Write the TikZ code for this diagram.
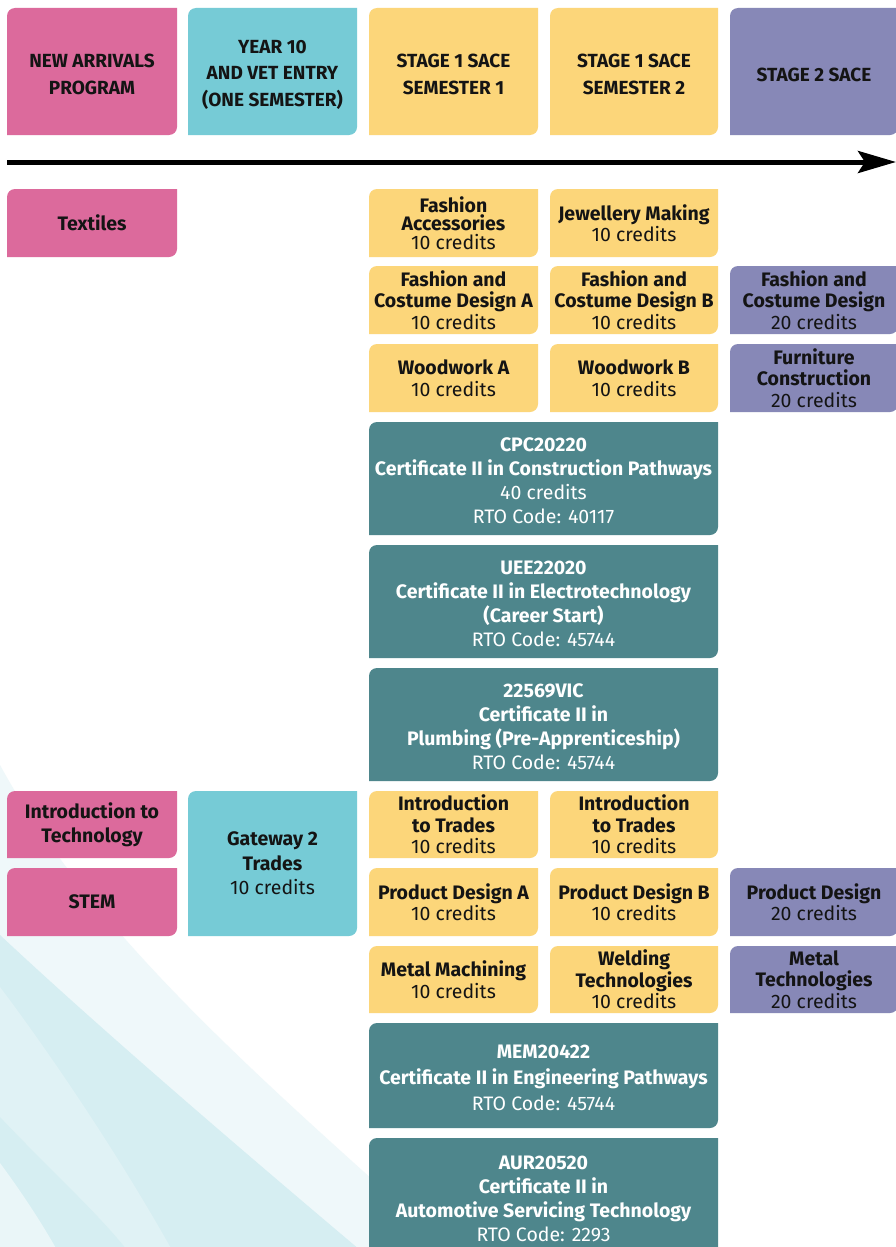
\documentclass[tikz,border=0pt]{standalone}
\usepackage{fontspec}
\setmainfont{Fira Sans}
\usetikzlibrary{arrows.meta}
\definecolor{pinkc}{HTML}{DC6A9C}
\definecolor{cyanc}{HTML}{76CBD6}
\definecolor{yellowc}{HTML}{FCD67A}
\definecolor{purplec}{HTML}{8788B7}
\definecolor{tealc}{HTML}{4E868C}
\definecolor{swA}{HTML}{EFF8FA}
\definecolor{swB}{HTML}{D6EEF2}
\definecolor{swC}{HTML}{E0F2F5}
\definecolor{swD}{HTML}{EAF6F8}
\definecolor{ink}{HTML}{141414}
\newcommand\reg[1]{{\mdseries #1}}
% #1 name, #2 x1, #3 y1, #4 x2, #5 y2, #6 fill colour, #7 text style, #8 text
\newcommand\cardbox[8]{%
  \fill[#6] (#2,{-#5}) -- (#2,{-#3-8}) arc[start angle=180,end angle=90,radius=8pt]
    -- (#4,{-#3}) -- (#4,{-#5+8}) arc[start angle=0,end angle=-90,radius=8pt] -- cycle;
  \node[#7] (#1) at ({(#2+#4)/2},{-(#3+#5)/2}) {#8};
}
\tikzset{
  basetext/.style={align=center, inner sep=0pt, font=\bfseries\fontsize{19.5}{21.5}\selectfont, text=ink},
  headtext/.style={basetext, font=\bfseries\fontsize{19}{26.5}\selectfont, yshift=-3pt},
  darktext/.style={basetext},
  lighttext/.style={basetext, text=white, font=\bfseries\fontsize{19.5}{24}\selectfont, yshift=-2pt},
  timeline/.style={line width=5pt, -{Stealth[length=38pt,width=22pt,inset=7pt]}},
}
\begin{document}
\begin{tikzpicture}[x=1pt,y=1pt]
\clip (0,0) rectangle (896,-1247);
\fill[white] (0,0) rectangle (896,-1247);
% background swooshes
\fill[swA] (0,-765) .. controls (90,-930) and (250,-1070) .. (440,-1240) -- (440,-1247) -- (0,-1247) -- cycle;
\fill[swB] (0,-935) .. controls (80,-1010) and (200,-1115) .. (360,-1250) -- (0,-1250) -- cycle;
\fill[swC] (0,-987) .. controls (40,-1040) and (110,-1140) .. (172,-1250) -- (0,-1250) -- cycle;
\fill[swB] (0,-1117) .. controls (45,-1165) and (95,-1210) .. (127,-1250) -- (0,-1250) -- cycle;
\fill[swD] (0,-1163) .. controls (20,-1190) and (40,-1220) .. (57,-1250) -- (0,-1250) -- cycle;

% header row
\cardbox{h1}{7}{8}{177}{135}{pinkc}{headtext}{NEW ARRIVALS\\PROGRAM}
\cardbox{h2}{188}{8}{357}{135}{cyanc}{headtext}{YEAR 10\\AND VET ENTRY\\(ONE SEMESTER)}
\cardbox{h3}{369}{8}{538}{135}{yellowc}{headtext}{STAGE 1 SACE\\SEMESTER 1}
\cardbox{h4}{550}{8}{718}{135}{yellowc}{headtext}{STAGE 1 SACE\\SEMESTER 2}
\cardbox{h5}{730}{8}{898}{135}{purplec}{headtext}{STAGE 2 SACE}

% timeline
\coordinate (tl) at (7,-162);
\coordinate (tr) at (896,-162);
\draw[timeline] (tl) -- (tr);

% textiles block
\cardbox{textiles}{7}{189}{177}{257}{pinkc}{darktext}{Textiles}
\cardbox{fa}{369}{189}{538}{257}{yellowc}{darktext}{Fashion\\[-3pt]Accessories\\[-3pt]\reg{10 credits}}
\cardbox{jm}{550}{189}{718}{257}{yellowc}{darktext}{Jewellery Making\\\reg{10 credits}}
\cardbox{fca}{369}{266}{538}{334}{yellowc}{darktext}{Fashion and\\Costume Design A\\\reg{10 credits}}
\cardbox{fcb}{550}{266}{718}{334}{yellowc}{darktext}{Fashion and\\Costume Design B\\\reg{10 credits}}
\cardbox{fcd}{730}{266}{898}{334}{purplec}{darktext}{Fashion and\\Costume Design\\\reg{20 credits}}
\cardbox{wa}{369}{344}{538}{412}{yellowc}{darktext}{Woodwork A\\\reg{10 credits}}
\cardbox{wb}{550}{344}{718}{412}{yellowc}{darktext}{Woodwork B\\\reg{10 credits}}
\cardbox{fc}{730}{344}{898}{412}{purplec}{darktext}{Furniture\\Construction\\\reg{20 credits}}

% VET certificates
\cardbox{cpc}{369}{422}{718}{535}{tealc}{lighttext}{CPC20220\\Certificate II in Construction Pathways\\\reg{40 credits}\\\reg{RTO Code: 40117}}
\cardbox{uee}{369}{545}{718}{658}{tealc}{lighttext}{UEE22020\\Certificate II in Electrotechnology\\(Career Start)\\\reg{RTO Code: 45744}}
\cardbox{vic}{369}{668}{718}{781}{tealc}{lighttext}{22569VIC\\Certificate II in\\Plumbing (Pre-Apprenticeship)\\\reg{RTO Code: 45744}}

% technology block
\cardbox{itech}{7}{791}{177}{858}{pinkc}{darktext}{Introduction to\\[2pt]Technology}
\cardbox{stem}{7}{868}{177}{936}{pinkc}{darktext}{STEM}
\cardbox{gw}{188}{791}{357}{936}{cyanc}{darktext}{Gateway 2\\[3pt]Trades\\[3pt]\reg{10 credits}}
\cardbox{it1}{369}{791}{538}{858}{yellowc}{darktext}{Introduction\\to Trades\\\reg{10 credits}}
\cardbox{it2}{550}{791}{718}{858}{yellowc}{darktext}{Introduction\\to Trades\\\reg{10 credits}}
\cardbox{pda}{369}{868}{538}{936}{yellowc}{darktext}{Product Design A\\\reg{10 credits}}
\cardbox{pdb}{550}{868}{718}{936}{yellowc}{darktext}{Product Design B\\\reg{10 credits}}
\cardbox{pd}{730}{868}{898}{936}{purplec}{darktext}{Product Design\\\reg{20 credits}}
\cardbox{mm}{369}{946}{538}{1013}{yellowc}{darktext}{Metal Machining\\\reg{10 credits}}
\cardbox{wt}{550}{946}{718}{1013}{yellowc}{darktext}{Welding\\Technologies\\\reg{10 credits}}
\cardbox{mt}{730}{946}{898}{1013}{purplec}{darktext}{Metal\\Technologies\\\reg{20 credits}}
\cardbox{mem}{369}{1023}{718}{1128}{tealc}{lighttext}{MEM20422\\[2pt]Certificate II in Engineering Pathways\\[2pt]\reg{RTO Code: 45744}}
\cardbox{aur}{369}{1138}{718}{1256}{tealc}{lighttext}{AUR20520\\Certificate II in\\Automotive Servicing Technology\\\reg{RTO Code: 2293}}
\end{tikzpicture}
\end{document}
